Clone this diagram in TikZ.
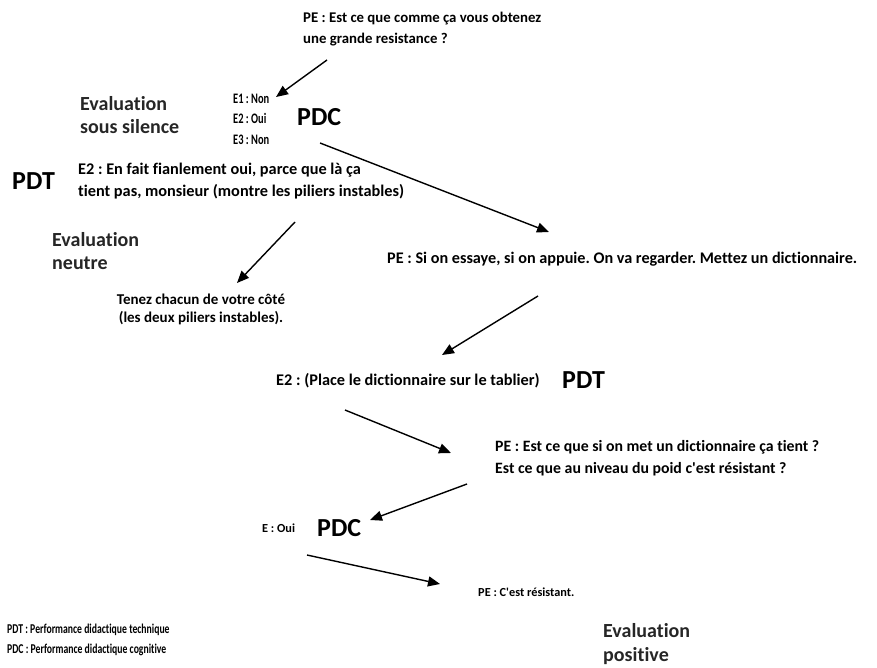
\documentclass[tikz,border=0pt]{standalone}
\usepackage{fontspec}
\setmainfont{Carlito}[Ligatures={NoCommon}]
\newfontfamily\narrowfont{Carlito}[FakeStretch=0.72,Ligatures={NoCommon}]
\usetikzlibrary{arrows.meta,positioning}
\frenchspacing

\begin{document}
\begin{tikzpicture}[
  x=1pt,y=-1pt,
  talk/.style={anchor=west,align=left,inner sep=0pt,font=\bfseries\fontsize{15.8}{21.5}\selectfont},
  small/.style={anchor=west,align=left,inner sep=0pt,font=\bfseries\fontsize{12.3}{20}\selectfont},
  legend/.style={anchor=west,align=left,inner sep=0pt,font=\narrowfont\bfseries\fontsize{13.5}{20}\selectfont},
  evalt/.style={anchor=west,align=left,inner sep=0pt,font=\bfseries\fontsize{20}{23.5}\selectfont,text=black!85},
  perf/.style={anchor=west,inner sep=0pt,font=\bfseries\fontsize{26}{28}\selectfont},
  arrow/.style={-{Triangle[length=12pt,width=10pt]},line width=1.4pt}
]
\useasboundingbox (0,0) rectangle (877,668);

% premier echange
\node[talk,font=\bfseries\fontsize{14.8}{21.5}\selectfont] (q1) at (303,29) {PE : Est ce que comme ça vous obtenez\\une grande resistance ?};
\node[evalt] (ev1) at (80,115) {Evaluation\\sous silence};
\node[legend,font=\narrowfont\bfseries\fontsize{14.5}{20.5}\selectfont] (rep1) at (233,119) {E1 : Non\\E2 : Oui\\E3 : Non};
\node[perf] (pdc1) at (297,117) {PDC};
\node[perf] (pdt1) at (12,181) {PDT};
\node[talk,font=\bfseries\fontsize{16.3}{21.5}\selectfont] (e2a) at (78,181) {E2 : En fait fianlement oui, parce que là ça\\tient pas, monsieur (montre les piliers instables)};
\node[evalt] (ev2) at (52,251) {Evaluation\\neutre};
\node[talk,anchor=center,align=center,font=\bfseries\fontsize{15}{18}\selectfont] (ten) at (201,309) {Tenez chacun de votre côté\\(les deux piliers instables).};
\node[talk,font=\bfseries\fontsize{16.2}{20}\selectfont] (q2) at (387,259) {PE : Si on essaye, si on appuie. On va regarder. Mettez un dictionnaire.};

% dictionnaire
\node[talk,font=\bfseries\fontsize{16.3}{20}\selectfont] (e2b) at (276,381) {E2 : (Place le dictionnaire sur le tablier)};
\node[perf] (pdt2) at (562,380) {PDT};
\node[talk] (q3) at (495,458) {PE : Est ce que si on met un dictionnaire ça tient ?\\Est ce que au niveau du poid c\textquotesingle est résistant ?};
\node[small] (oui) at (262,528) {E : Oui};
\node[perf] (pdc2) at (317,528) {PDC};
\node[small] (q4) at (478,592) {PE : C\textquotesingle est résistant.};

% legende
\node[legend] (leg) at (7,640) {PDT : Performance didactique technique\\PDC : Performance didactique cognitive};
\node[evalt] (ev3) at (603,644) {Evaluation\\positive};

% fleches
\coordinate (a1) at (327,60);   \coordinate (b1) at (276,97);
\coordinate (a2) at (320,143);  \coordinate (b2) at (549,232);
\coordinate (a3) at (295,222);  \coordinate (b3) at (237,283);
\coordinate (a4) at (538,296);  \coordinate (b4) at (442,355);
\coordinate (a5) at (345,410);  \coordinate (b5) at (451,453);
\coordinate (a6) at (467,484);  \coordinate (b6) at (370,520);
\coordinate (a7) at (307,555);  \coordinate (b7) at (440,584);
\draw[arrow] (a1) -- (b1);
\draw[arrow] (a2) -- (b2);
\draw[arrow] (a3) -- (b3);
\draw[arrow] (a4) -- (b4);
\draw[arrow] (a5) -- (b5);
\draw[arrow] (a6) -- (b6);
\draw[arrow] (a7) -- (b7);
\end{tikzpicture}
\end{document}
